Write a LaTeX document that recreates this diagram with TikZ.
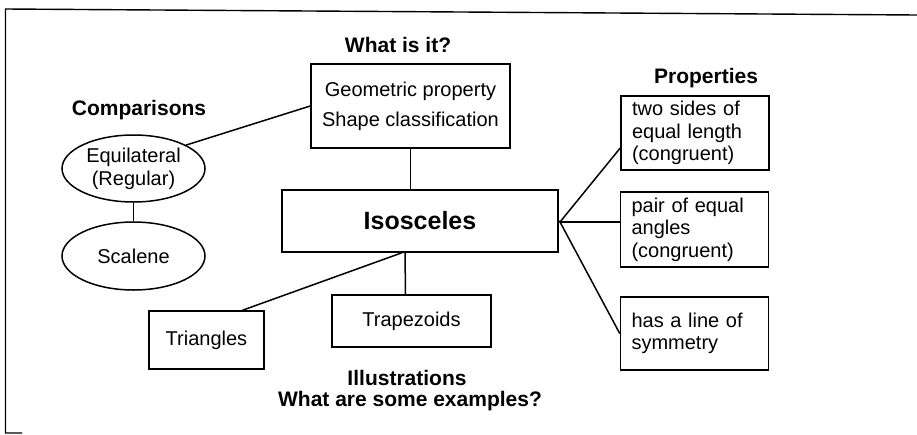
\documentclass[tikz,border=0pt]{standalone}
\usepackage{fontspec}
\setmainfont{Liberation Sans}
\usetikzlibrary{shapes.geometric}
\begin{document}
\begin{tikzpicture}[x=1pt,y=-1pt,
  line width=1.5pt,
  every node/.style={inner sep=0pt},
  txt/.style={font=\fontsize{20}{30}\selectfont},
  title/.style={font=\fontsize{21}{25}\selectfont\bfseries},
  box/.style={draw, rectangle, txt, align=center},
  oval/.style={draw, ellipse, txt, align=center},
  propbox/.style={draw, rectangle, font=\fontsize{20}{22.5}\selectfont,
    align=left, text width=126pt, inner xsep=11pt}]
\useasboundingbox (0,0) rectangle (917,434);

% open frame: top edge, left edge and a short foot
\draw[line width=1.4pt] (22,433) -- (5.5,433) -- (5.5,9) -- (917,15);

% section headings
\node[title] (whatis) at (398,45) {What is it?};
\node[title] (comp) at (139,110) {Comparisons};
\node[title] (props) at (706,78) {Properties};
\node[title] (illus) at (407,378) {Illustrations};
\node[title] (examples) at (410,401) {What are some examples?};

% central concept
\node[draw, rectangle, minimum width=276pt, minimum height=62pt,
  font=\fontsize{25}{30}\selectfont\bfseries] (iso) at (420,221) {Isosceles};

% definition
\node[box, minimum width=199pt, minimum height=84pt] (geo) at (410.5,106)
  {Geometric property\\Shape classification};

% comparisons
\node[oval, minimum width=143pt, minimum height=67pt] (eq) at (133.5,168.5)
  {Equilateral\\[-7pt](Regular)};
\node[oval, minimum width=143pt, minimum height=68pt] (sc) at (133.5,256)
  {Scalene};

% examples
\node[box, minimum width=115pt, minimum height=58pt] (tri) at (206.5,340) {Triangles};
\node[box, minimum width=159pt, minimum height=52pt] (trap) at (411.5,321) {Trapezoids};

% properties
\node[propbox, minimum height=74pt] (p1) at (695,133)
  {two sides of\\equal length\\(congruent)};
\node[propbox, minimum height=75pt] (p2) at (694.5,229.5)
  {pair of equal\\angles\\(congruent)};
\node[propbox, minimum height=73pt] (p3) at (694.5,333.5)
  {has a line of\\symmetry};

% connectors
\coordinate (fan) at (560,222);
\draw (geo.south) -- (geo.south |- iso.north);
\draw (eq.24) -- (geo.west);
\draw (eq.south) -- (sc.north);
\draw ([xshift=-18pt]iso.south) -- ([xshift=36pt]tri.north);
\draw ([xshift=-15pt]iso.south) -- ([xshift=-6pt]trap.north);
\draw (iso.east) -- (fan);
\draw (fan) -- ([yshift=-15pt]p1.west);
\draw (fan) -- (fan -| p2.west);
\draw (fan) -- (p3.west);
\end{tikzpicture}
\end{document}
